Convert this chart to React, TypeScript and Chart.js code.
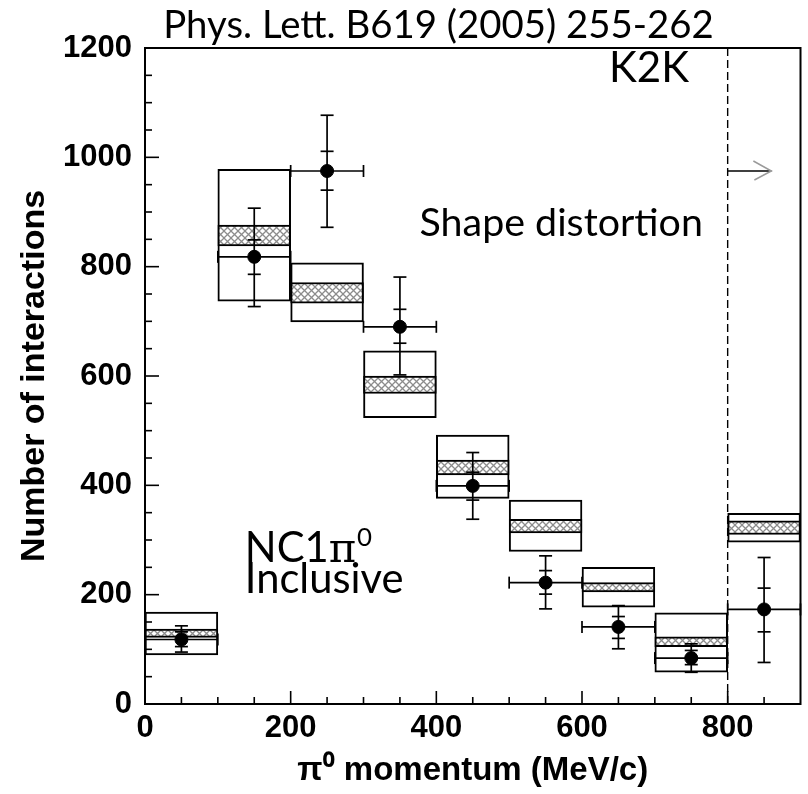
import React, { useEffect, useRef } from 'react';
import { Chart, registerables } from 'chart.js';

Chart.register(...registerables);

// ---- data ----
const binCenters = [50, 150, 250, 350, 450, 550, 650, 750, 850];
const binHalfWidth = 50;
const boxLow = [90, 737, 699, 524, 376, 279, 177, 58, 296];
const boxHigh = [168, 978, 807, 646, 492, 373, 250, 167, 349];
const bandLow = [122, 838, 733, 568, 419, 313, 205, 105, 310];
const bandHigh = [137, 876, 771, 600, 446, 338, 222, 123, 335];
const dataValues = [118, 818, 975, 690, 399, 222, 141, 84, 173];
const statLow = [105, 786, 940, 660, 373, 201, 120, 72, 132];
const statHigh = [132, 849, 1011, 722, 424, 244, 160, 98, 212];
const totLow = [95, 727, 872, 602, 338, 174, 101, 58, 76];
const totHigh = [143, 907, 1077, 781, 460, 271, 180, 110, 268];
const xTickValues = [0, 200, 400, 600, 800];
const yTickValues = [0, 200, 400, 600, 800, 1000, 1200];
const xMinorStep = 50;
const yMinorStep = 50;
const cutValue = 800;
const arrowY = 975;
const arrowEnd = 860;

const TITLE = 'Phys. Lett. B619 (2005) 255-262';
const ANNOT_FONT = 'Lato, "Open Sans", sans-serif';
const AXIS_FONT = '"Liberation Sans", Arial, sans-serif';

function makePattern(): CanvasPattern | string {
  const c = document.createElement('canvas');
  c.width = 7;
  c.height = 7;
  const g = c.getContext('2d');
  if (!g) return '#bbb';
  g.fillStyle = '#fff';
  g.fillRect(0, 0, 7, 7);
  g.strokeStyle = '#8c8c8c';
  g.lineWidth = 1.3;
  g.beginPath();
  g.moveTo(-1, -1); g.lineTo(8, 8);
  g.moveTo(-1, 8); g.lineTo(8, -1);
  g.stroke();
  const p = g.createPattern(c, 'repeat');
  return p || '#bbb';
}

function fitFont(ctx: CanvasRenderingContext2D, text: string, family: string, width: number) {
  ctx.font = `100px ${family}`;
  const w = ctx.measureText(text).width;
  return (100 * width) / w;
}

const decorPlugin = {
  id: 'decor',
  afterDatasetsDraw(chart: any) {
    const { ctx, chartArea: a, scales } = chart;
    const x = scales.x;
    const y = scales.y;
    const line = (x1: number, y1: number, x2: number, y2: number) => {
      ctx.beginPath();
      ctx.moveTo(x1, y1);
      ctx.lineTo(x2, y2);
      ctx.stroke();
    };
    ctx.save();
    ctx.strokeStyle = '#000';
    ctx.lineWidth = 1.7;
    // error bars
    binCenters.forEach((c, i) => {
      const px = x.getPixelForValue(c);
      const xl = x.getPixelForValue(c - binHalfWidth);
      const xr = x.getPixelForValue(c + binHalfWidth);
      const py = y.getPixelForValue(dataValues[i]);
      line(xl, py, xr, py);
      line(xl, py - 6, xl, py + 6);
      line(xr, py - 6, xr, py + 6);
      line(px, y.getPixelForValue(totLow[i]), px, y.getPixelForValue(totHigh[i]));
      [totLow[i], totHigh[i], statLow[i], statHigh[i]].forEach((v) => {
        const yy = y.getPixelForValue(v);
        line(px - 6.5, yy, px + 6.5, yy);
      });
    });
    // dashed cut line
    const cx = x.getPixelForValue(cutValue);
    ctx.lineWidth = 1.4;
    ctx.setLineDash([8, 4]);
    line(cx, a.bottom, cx, a.top);
    ctx.setLineDash([]);
    // arrow
    const ay = y.getPixelForValue(arrowY);
    const ax2 = x.getPixelForValue(arrowEnd);
    ctx.lineWidth = 1.6;
    line(cx, ay, ax2, ay);
    ctx.strokeStyle = '#9a9a9a';
    ctx.lineWidth = 1.5;
    ctx.beginPath();
    ctx.moveTo(ax2 - 18, ay - 10);
    ctx.lineTo(ax2, ay);
    ctx.lineTo(ax2 - 17, ay + 9);
    ctx.stroke();
    // frame
    ctx.strokeStyle = '#000';
    ctx.lineWidth = 2;
    ctx.strokeRect(a.left, a.top, a.right - a.left, a.bottom - a.top);
    // inward ticks
    ctx.lineWidth = 1.6;
    for (let v = x.min; v < x.max; v += xMinorStep) {
      if (v === x.min) continue;
      const major = xTickValues.includes(v);
      const p = x.getPixelForValue(v);
      line(p, a.bottom, p, a.bottom - (major ? 13 : 7));
    }
    for (let v = y.min; v < y.max; v += yMinorStep) {
      if (v === y.min) continue;
      const major = yTickValues.includes(v);
      const p = y.getPixelForValue(v);
      line(a.left, p, a.left + (major ? 14 : 7), p);
    }
    // texts
    ctx.fillStyle = '#000';
    ctx.textBaseline = 'alphabetic';
    ctx.textAlign = 'left';
    // title
    const tL = x.getPixelForValue(25);
    const tR = x.getPixelForValue(781);
    let fs = fitFont(ctx, TITLE, ANNOT_FONT, tR - tL);
    ctx.font = `${fs}px ${ANNOT_FONT}`;
    ctx.fillText(TITLE, tL, a.top - 10);
    // K2K
    const kL = x.getPixelForValue(637);
    const kR = x.getPixelForValue(747);
    fs = fitFont(ctx, 'K2K', ANNOT_FONT, kR - kL);
    ctx.font = `${fs}px ${ANNOT_FONT}`;
    ctx.fillText('K2K', kL, y.getPixelForValue(1138));
    // Shape distortion
    const sL = x.getPixelForValue(377);
    const sR = x.getPixelForValue(766);
    fs = fitFont(ctx, 'Shape distortion', ANNOT_FONT, sR - sL);
    ctx.font = `${fs}px ${ANNOT_FONT}`;
    ctx.fillText('Shape distortion', sL, y.getPixelForValue(856));
    // NC1pi0 / Inclusive
    const iL = x.getPixelForValue(137);
    const iR = x.getPixelForValue(355);
    fs = fitFont(ctx, 'Inclusive', ANNOT_FONT, iR - iL);
    ctx.font = `${fs}px ${ANNOT_FONT}`;
    ctx.fillText('Inclusive', iL, y.getPixelForValue(203));
    const nb = y.getPixelForValue(260);
    ctx.fillText('NC1', iL, nb);
    let w = ctx.measureText('NC1').width;
    ctx.font = `${fs}px "DejaVu Serif", serif`;
    ctx.fillText('π', iL + w, nb);
    w += ctx.measureText('π').width;
    ctx.font = `${fs * 0.62}px ${ANNOT_FONT}`;
    ctx.fillText('0', iL + w + 1, nb - fs * 0.38);
    ctx.restore();
  },
};

export default function App() {
  const ref = useRef<HTMLCanvasElement | null>(null);
  useEffect(() => {
    if (!ref.current) return;
    const pattern = makePattern();
    const barCommon = {
      type: 'bar' as const,
      grouped: false,
      barPercentage: 1,
      categoryPercentage: 1,
      borderColor: '#000',
      borderWidth: 2,
      borderSkipped: false,
    };
    const chart = new Chart(ref.current, {
      type: 'bar',
      data: {
        datasets: [
          {
            type: 'scatter',
            label: 'data',
            data: binCenters.map((c, i) => ({ x: c, y: dataValues[i] })),
            pointRadius: 6.5,
            pointBackgroundColor: '#000',
            pointBorderColor: '#000',
            order: 0,
          } as any,
          {
            ...barCommon,
            label: 'band',
            data: binCenters.map((c, i) => ({ x: c, y: [bandLow[i], bandHigh[i]] })),
            backgroundColor: pattern,
            order: 1,
          } as any,
          {
            ...barCommon,
            label: 'box',
            data: binCenters.map((c, i) => ({ x: c, y: [boxLow[i], boxHigh[i]] })),
            backgroundColor: '#ffffff',
            order: 2,
          } as any,
        ],
      },
      options: {
        responsive: false,
        animation: false,
        events: [],
        layout: { padding: { top: 48, right: 4, left: 0, bottom: 0 } },
        plugins: { legend: { display: false }, tooltip: { enabled: false } },
        scales: {
          x: {
            type: 'linear',
            min: 0,
            max: 900,
            offset: false,
            grid: { display: false, drawTicks: false },
            border: { display: false },
            afterBuildTicks: (s: any) => {
              s.ticks = xTickValues.map((v) => ({ value: v }));
            },
            afterFit: (s: any) => {
              s.height = 90;
            },
            ticks: {
              color: '#000',
              padding: 6,
              maxRotation: 0,
              autoSkip: false,
              callback: (v: any) => String(v),
              font: { family: AXIS_FONT, weight: 'bold', size: 31 },
            },
            title: {
              display: true,
              text: 'π⁰ momentum (MeV/c)',
              color: '#000',
              font: { family: AXIS_FONT, weight: 'bold', size: 33 },
              padding: { top: 0, bottom: 3 },
            },
          },
          y: {
            type: 'linear',
            min: 0,
            max: 1200,
            grid: { display: false, drawTicks: false },
            border: { display: false },
            afterBuildTicks: (s: any) => {
              s.ticks = yTickValues.map((v) => ({ value: v }));
            },
            afterFit: (s: any) => {
              s.width = 145;
            },
            ticks: {
              color: '#000',
              padding: 13,
              autoSkip: false,
              callback: (v: any) => String(v),
              font: { family: AXIS_FONT, weight: 'bold', size: 31 },
            },
            title: {
              display: true,
              text: 'Number of interactions',
              color: '#000',
              font: { family: AXIS_FONT, weight: 'bold', size: 34 },
              padding: { top: 14, bottom: 0 },
            },
          },
        },
      },
      plugins: [decorPlugin],
    } as any);
    return () => chart.destroy();
  }, []);
  return (
    <div style={{ position: 'fixed', left: 0, top: 0, width: 808, height: 794, background: '#fff' }}>
      <canvas ref={ref} width={808} height={794} style={{ display: 'block' }} />
    </div>
  );
}
